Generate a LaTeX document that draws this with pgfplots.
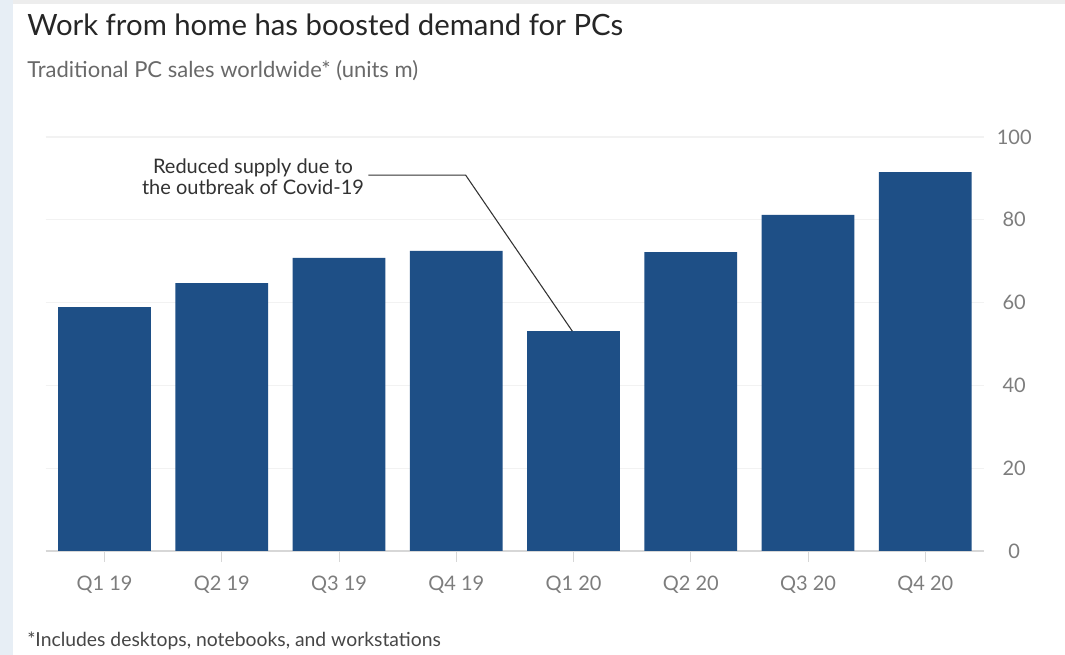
\documentclass[border=0pt]{standalone}
\usepackage{pgfplots}
\pgfplotsset{compat=1.18}
\usepackage{fontspec}
\setmainfont{Lato}
\definecolor{barblue}{RGB}{30,79,134}
\definecolor{titlec}{RGB}{38,38,38}
\definecolor{subc}{RGB}{105,105,105}
\definecolor{tickc}{RGB}{125,125,125}
\definecolor{gridc}{RGB}{242,242,242}
\definecolor{axisc}{RGB}{215,215,215}
\definecolor{stripc}{RGB}{231,238,245}
\definecolor{annc}{RGB}{50,50,50}
\pgfplotstableread{
x y
0 58.9
1 64.7
2 70.8
3 72.5
4 53.1
5 72.2
6 81.2
7 91.5
}\pcsales
\begin{document}
\begin{tikzpicture}
\begin{scope}[x=0.75pt,y=-0.75pt]
\fill[white] (0,0) rectangle (1065,655);
\useasboundingbox (0,0) rectangle (1065,655);
\fill[stripc] (0,0) rectangle (13,655);
\fill[black!7] (13,0) rectangle (1065,4);
\node[anchor=base west, inner sep=0pt, text=titlec, font=\fontsize{22pt}{26pt}\selectfont] at (27,36) {Work from home has boosted demand for PCs};
\node[anchor=base west, inner sep=0pt, text=subc, font=\fontsize{16.5pt}{19pt}\selectfont] at (27,78) {Traditional PC sales worldwide* (units m)};
\node[anchor=base west, inner sep=0pt, text=annc!90, font=\fontsize{14.5pt}{17pt}\selectfont] at (27,647) {*Includes desktops, notebooks, and workstations};
\node[align=center, inner sep=0pt, text=annc, font=\fontsize{15pt}{16pt}\selectfont] at (253,177) {Reduced supply due to\\the outbreak of Covid-19};
\end{scope}
\begin{axis}[
  at={(34.4pt,-413.25pt)}, anchor=south west,
  scale only axis, width=703.5pt, height=310.5pt,
  xmin=-0.5, xmax=7.5, ymin=0, ymax=100,
  enlargelimits=false,
  ybar, bar width=0.79,
  axis x line*=bottom, axis y line*=right,
  x axis line style={draw=axisc, line width=0.9pt, -},
  y axis line style={draw=none},
  xtick={0,...,7},
  xticklabels={Q1 19,Q2 19,Q3 19,Q4 19,Q1 20,Q2 20,Q3 20,Q4 20},
  ytick={0,20,...,100},
  xtick align=outside,
  x tick style={draw=axisc, line width=0.6pt},
  y tick style={draw=none},
  major tick length=8pt,
  ymajorgrids, grid style={draw=gridc, line width=1pt},
  yticklabel pos=right,
  /pgf/number format/assume math mode=true,
  tick label style={text=tickc, font=\fontsize{15pt}{17pt}\selectfont},
  xticklabel style={yshift=-7pt},
  yticklabel style={anchor=west, text width=27pt, align=center, xshift=5.75pt},
]
\addplot[fill=barblue, draw=none] table[x=x,y=y] {\pcsales};
\draw[annc, line width=0.8pt] (axis cs:2.25,90.8) -- (axis cs:3.08,90.8) -- (axis cs:3.99,53.1);
\end{axis}
\end{tikzpicture}
\end{document}
